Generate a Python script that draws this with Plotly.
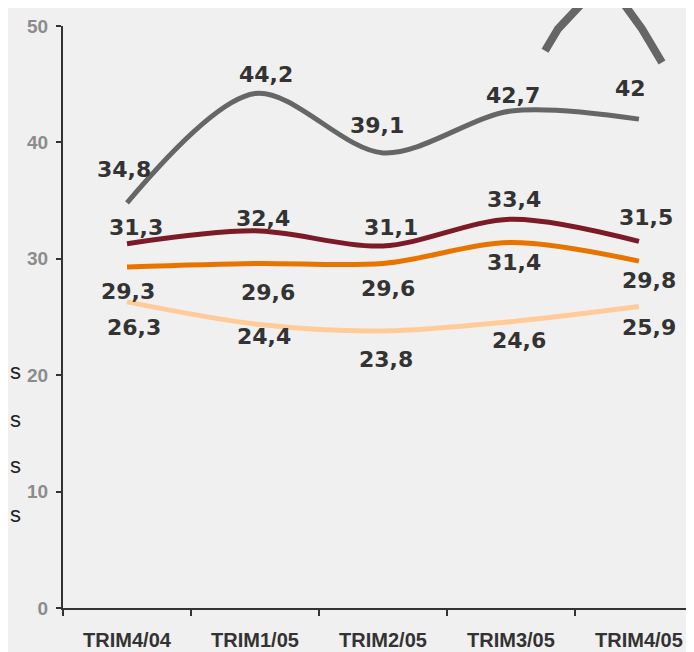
import plotly.graph_objects as go

# Chart data
categories = ["TRIM4/04", "TRIM1/05", "TRIM2/05", "TRIM3/05", "TRIM4/05"]
gray_values = [34.8, 44.2, 39.1, 42.7, 42]
red_values = [31.3, 32.4, 31.1, 33.4, 31.5]
orange_values = [29.3, 29.6, 29.6, 31.4, 29.8]
peach_values = [26.3, 24.4, 23.8, 24.6, 25.9]

# Label offsets in pixels (dx, dy), style only
gray_offsets = [(-3, 33), (11, 19), (-6, 27), (2, 15), (-8, 31)]
red_offsets = [(9, 16), (8, 12), (8, 19), (3, 20), (7, 24)]
orange_offsets = [(1, -25), (13, -29), (5, -25), (3, -20), (10, -19)]
peach_offsets = [(7, -26), (9, -13), (3, -29), (8, -19), (10, -21)]

series = [
    (peach_values, "#ffcc99", peach_offsets),
    (orange_values, "#e87400", orange_offsets),
    (red_values, "#7d1a28", red_offsets),
    (gray_values, "#666666", gray_offsets),
]


def fmt(v):
    # decimal comma, drop trailing ",0"
    if float(v).is_integer():
        return str(int(v))
    return f"{v:.1f}".replace(".", ",")


fig = go.Figure()
annotations = []
for values, color, offsets in series:
    fig.add_trace(go.Scatter(
        x=categories,
        y=values,
        mode="lines",
        line=dict(color=color, width=5, shape="spline", smoothing=0.9),
        hoverinfo="skip",
        showlegend=False,
    ))
    for cat, val, (dx, dy) in zip(categories, values, offsets):
        annotations.append(dict(
            x=cat, y=val, xref="x", yref="y",
            text=fmt(val), showarrow=False,
            xshift=dx, yshift=dy,
            font=dict(family="DejaVu Sans", size=22, color="#333333", weight="bold"),
        ))

# plot area in page pixels: x 63..694, y 19..608 (page has an 8px body margin)
PLOT_L, PLOT_W, PLOT_B, PLOT_H = 63, 631, 608, 589


def px_to_paper(x, y):
    return (x - PLOT_L) / PLOT_W, (PLOT_B - y) / PLOT_H


# Cut-off legend text at the left edge
for py in [369, 417, 464, 513]:
    ax, ay = px_to_paper(8, py)
    annotations.append(dict(
        x=ax, y=ay, xref="paper", yref="paper",
        xanchor="left", yanchor="middle", text="s", showarrow=False,
        font=dict(family="Liberation Sans", size=22, color="#222222"),
    ))

# Decorative strokes at the top right
shapes = []
for (x0, y0), (x1, y1), (x2, y2) in [
    ((545, 44), (558, 22), (584, -6)),
    ((622, -6), (642, 22), (662, 56)),
]:
    a = px_to_paper(x0, y0)
    b = px_to_paper(x1, y1)
    c = px_to_paper(x2, y2)
    shapes.append(dict(
        type="path", xref="paper", yref="paper",
        path=f"M {a[0]},{a[1]} L {b[0]},{b[1]} L {c[0]},{c[1]}",
        line=dict(color="#666666", width=8),
        layer="above",
    ))

fig.update_layout(
    width=694,
    height=652,
    margin=dict(l=55, r=8, t=11, b=52),
    paper_bgcolor="#f0f0f0",
    plot_bgcolor="#f0f0f0",
    showlegend=False,
    annotations=annotations,
    shapes=shapes,
    xaxis=dict(
        range=[-0.5, 4.43],
        showgrid=False,
        zeroline=False,
        showline=True,
        linecolor="#333333",
        linewidth=2,
        ticks="outside",
        tickson="boundaries",
        ticklen=6,
        tickwidth=2,
        tickcolor="#333333",
        tickfont=dict(family="Liberation Sans", size=20, color="#333333", weight="bold"),
        ticklabelstandoff=13,
    ),
    yaxis=dict(
        range=[0, 50],
        tickvals=[0, 10, 20, 30, 40, 50],
        showgrid=False,
        zeroline=False,
        showline=True,
        linecolor="#333333",
        linewidth=2,
        ticks="outside",
        ticklen=5,
        tickwidth=2,
        tickcolor="#333333",
        tickfont=dict(family="Liberation Sans", size=19, color="#8c8c8c", weight="bold"),
        ticklabelstandoff=4,
    ),
)

fig.write_html("out.html")
